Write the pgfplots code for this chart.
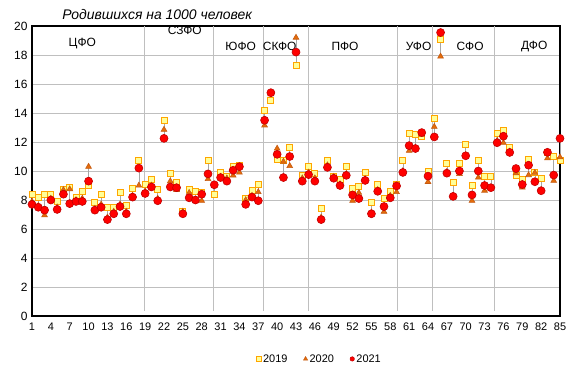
\documentclass[border=0pt]{standalone}
\usepackage{fontspec}
\setmainfont{Liberation Sans}
\usepackage{pgfplots}
\pgfplotsset{compat=1.18}
\usepackage{pgfplotstable}

\definecolor{sqfill}{HTML}{FFFF99}
\definecolor{sqedge}{HTML}{FFA500}
\definecolor{trifill}{HTML}{E46C0A}
\definecolor{triedge}{HTML}{C55A11}
\definecolor{cirfill}{HTML}{FF0000}
\definecolor{ciredge}{HTML}{C00000}
\definecolor{gridc}{HTML}{BFBFBF}
\definecolor{hlc}{HTML}{A6A6A6}

\pgfplotstableread{
x a b c
1 8.4 7.9 7.7
2 8.2 7.6 7.5
3 8.4 6.95 7.3
4 8.35 8.1 8.0
5 7.9 7.5 7.35
6 8.75 8.7 8.4
7 8.85 8.75 7.75
8 8.2 8.0 7.9
9 8.6 8.1 7.9
10 9.0 10.3 9.3
11 7.85 7.4 7.3
12 8.4 7.7 7.5
13 7.5 6.8 6.65
14 7.5 7.2 7.05
15 8.55 7.7 7.55
16 7.6 7.2 7.05
17 8.8 8.3 8.2
18 10.75 9.0 10.2
19 9.05 8.6 8.45
20 9.45 9.0 8.9
21 8.7 8.1 7.95
22 13.5 12.85 12.25
23 9.85 9.3 8.9
24 9.2 8.7 8.85
25 7.2 7.2 7.05
26 8.7 8.5 8.15
27 8.6 8.0 8.0
28 8.55 7.95 8.4
29 10.75 9.45 9.8
30 8.4 9.0 9.05
31 9.9 9.6 9.55
32 9.6 9.5 9.3
33 10.3 9.7 10.05
34 10.4 9.9 10.3
35 8.1 8.0 7.7
36 8.65 8.3 8.2
37 9.1 8.55 7.95
38 14.2 13.15 13.5
39 14.9 15.3 15.4
40 10.8 11.55 11.15
41 10.75 10.65 9.55
42 11.65 10.35 11.0
43 17.25 19.2 18.2
44 9.7 9.5 9.3
45 10.3 9.9 9.75
46 9.85 9.5 9.3
47 7.4 6.8 6.65
48 10.75 10.4 10.25
49 9.65 9.6 9.5
50 9.45 9.1 9.0
51 10.3 9.8 9.7
52 8.8 7.95 8.35
53 8.95 8.5 8.1
54 9.9 9.45 9.35
55 7.8 7.15 7.05
56 9.1 8.7 8.6
57 8.1 7.2 7.55
58 8.62 8.3 8.15
59 9.1 8.55 8.97
60 10.72 10.0 9.9
61 12.6 11.4 11.75
62 12.5 11.6 11.55
63 12.35 12.5 12.65
64 9.95 9.25 9.65
65 13.6 13.05 12.35
66 19.05 17.9 19.55
67 10.5 9.95 9.85
68 9.2 8.3 8.25
69 10.55 9.8 10.0
70 11.85 11.1 11.05
71 9.0 7.95 8.35
72 10.7 9.55 10.0
73 9.65 8.65 9.0
74 9.6 8.8 8.85
75 12.6 12.1 11.95
76 12.8 11.95 12.4
77 11.65 11.35 11.28
78 9.7 9.85 10.17
79 9.42 8.87 9.07
80 10.83 9.72 10.4
81 9.9 9.88 9.26
82 9.49 8.7 8.64
83 11.3 10.88 11.29
84 11.03 9.33 9.72
85 10.7 10.95 12.25
}\data

\begin{document}
\begin{tikzpicture}
\begin{axis}[
  scale only axis, width=528bp, height=290bp,
  xmin=1, xmax=85, ymin=0, ymax=20,
  xtick={1,4,...,85}, ytick={0,2,...,20},
  ymajorgrids, grid style={gridc, line width=0.8bp},
  axis line style={black, line width=1.3bp},
  tick style={draw=none},
  /pgf/number format/assume math mode=true,
  yticklabel style={font=\fontsize{12}{14}\selectfont, xshift=-1bp},
  xticklabel style={font=\fontsize{11}{13}\selectfont, yshift=-3bp},
  clip=false,
  legend style={at={(rel axis cs:0.545,-0.148)}, anchor=center, draw=none,
    font=\fontsize{11}{13}\selectfont, legend columns=3,
    /tikz/every even column/.append style={column sep=14bp}},
  legend cell align=left,
]
\coordinate (sw) at (rel axis cs:0,0);
\coordinate (ne) at (rel axis cs:1,1);

% district separators
\foreach \xx in {18.9,29.9,37.8,45.0,59.2,64.65,74.6}{
  \edef\tmp{\noexpand\draw[gridc, line width=0.8bp] (axis cs:\xx,0.35) -- (axis cs:\xx,20);}\tmp
}

\addlegendimage{only marks, mark=square*, mark size=2.2bp, mark options={fill=sqfill, draw=sqedge, line width=0.7bp}}
\addlegendentry{2019}
\addlegendimage{only marks, mark=triangle*, mark size=2.4bp, mark options={fill=trifill, draw=triedge, line width=0.5bp}}
\addlegendentry{2020}
\addlegendimage{only marks, mark=*, mark size=2.2bp, mark options={fill=cirfill, draw=ciredge, line width=0.5bp}}
\addlegendentry{2021}

% high-low lines
\addplot[forget plot, only marks, mark=none,
  error bars/.cd, y dir=both, y explicit, error mark=none,
  error bar style={hlc, line width=0.7bp, solid}]
  table[x=x, y=c,
    y error plus expr={max(\thisrow{a},\thisrow{b},\thisrow{c})-\thisrow{c}},
    y error minus expr={\thisrow{c}-min(\thisrow{a},\thisrow{b},\thisrow{c})}] {\data};

\addplot[forget plot, only marks, mark=square*, mark size=3bp,
  mark options={fill=sqfill, draw=sqedge, line width=0.9bp}] table[x=x, y=a] {\data};
\addplot[forget plot, only marks, mark=triangle*, mark size=3.3bp,
  mark options={fill=trifill, draw=triedge, line width=0.6bp}] table[x=x, y=b] {\data};
\addplot[forget plot, only marks, mark=*, mark size=4bp,
  mark options={fill=cirfill, draw=ciredge, line width=0.6bp}] table[x=x, y=c] {\data};

\node[font=\fontsize{14}{16}\selectfont\itshape] at (rel axis cs:0.237,1.038) {Родившихся на 1000 человек};
\begin{scope}[every node/.style={font=\fontsize{12}{14}\selectfont}]
\node at (axis cs:9.0,18.76) {ЦФО};
\node at (axis cs:25.3,19.7) {СЗФО};
\node at (axis cs:34.2,18.6) {ЮФО};
\node at (axis cs:40.4,18.6) {СКФО};
\node at (axis cs:50.8,18.6) {ПФО};
\node at (axis cs:62.5,18.6) {УФО};
\node at (axis cs:70.7,18.6) {СФО};
\node at (axis cs:80.9,18.6) {ДФО};
\end{scope}
\end{axis}
\pgfresetboundingbox
\path ([shift={(-32bp,-60bp)}]sw) rectangle ([shift={(16bp,26bp)}]ne);
\end{tikzpicture}
\end{document}
